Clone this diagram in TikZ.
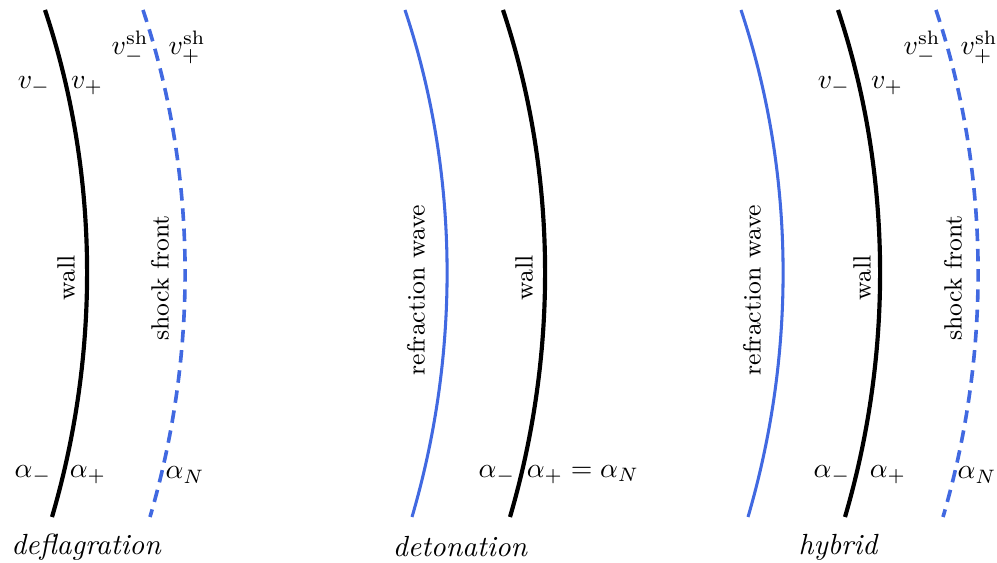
\documentclass[tikz,border=0pt]{standalone}
\usepackage{amsmath}
\definecolor{wavecol}{RGB}{65,105,225}
\begin{document}
\begin{tikzpicture}[x=0.36pt,y=-0.36pt,
  wallline/.style={line width=1.5pt,black},
  wave/.style={line width=1.1pt,wavecol},
  shock/.style={line width=1.3pt,wavecol,dash pattern=on 4.5pt off 2.8pt},
  lab/.style={inner sep=0pt,font=\fontsize{10}{12}\selectfont},
  rlab/.style={inner sep=0pt,rotate=90,font=\fontsize{9}{11}\selectfont},
  capt/.style={inner sep=0pt,font=\fontsize{10.5}{12}\selectfont\itshape}]
\useasboundingbox (0,0) rectangle (997,563);
\newcommand\frontline[2]{\draw[#1] (#2,10) .. controls +(53.7,161) and +(49,-167.3) .. (#2+7,517);}
% deflagration
\frontline{wallline}{45}
\frontline{shock}{143}
\node[lab] (dvm) at (34,86) {$v_-$};
\node[lab] (dvp) at (87,86) {$v_+$};
\node[lab] (dvshm) at (130,47) {$v^{\mathrm{sh}}_-$};
\node[lab] (dvshp) at (187,47) {$v^{\mathrm{sh}}_+$};
\node[lab] (dam) at (33,475) {$\alpha_-$};
\node[lab] (dap) at (88,475) {$\alpha_+$};
\node[lab] (daN) at (185,475) {$\alpha_N$};
\node[rlab] (dwall) at (66,278) {wall};
\node[rlab] (dshock) at (160,278) {shock front};
\node[capt] (dcap) at (86,547) {deflagration};
% detonation
\frontline{wave}{405}
\frontline{wallline}{503}
\node[lab] (tam) at (497,475) {$\alpha_-$};
\node[lab] (tap) at (583,475) {$\alpha_+=\alpha_N$};
\node[rlab] (trefr) at (416,290) {refraction wave};
\node[rlab] (twall) at (524,278) {wall};
\node[capt] (tcap) at (460,547) {detonation};
% hybrid
\frontline{wave}{741}
\frontline{wallline}{838}
\frontline{shock}{936}
\node[lab] (hvm) at (834,86) {$v_-$};
\node[lab] (hvp) at (887,86) {$v_+$};
\node[lab] (hvshm) at (922,47) {$v^{\mathrm{sh}}_-$};
\node[lab] (hvshp) at (979,47) {$v^{\mathrm{sh}}_+$};
\node[lab] (ham) at (832,475) {$\alpha_-$};
\node[lab] (hap) at (888,475) {$\alpha_+$};
\node[lab] (haN) at (977,475) {$\alpha_N$};
\node[rlab] (hrefr) at (752,290) {refraction wave};
\node[rlab] (hwall) at (862,278) {wall};
\node[rlab] (hshock) at (953,278) {shock front};
\node[capt] (hcap) at (838,547) {hybrid};
\end{tikzpicture}
\end{document}
